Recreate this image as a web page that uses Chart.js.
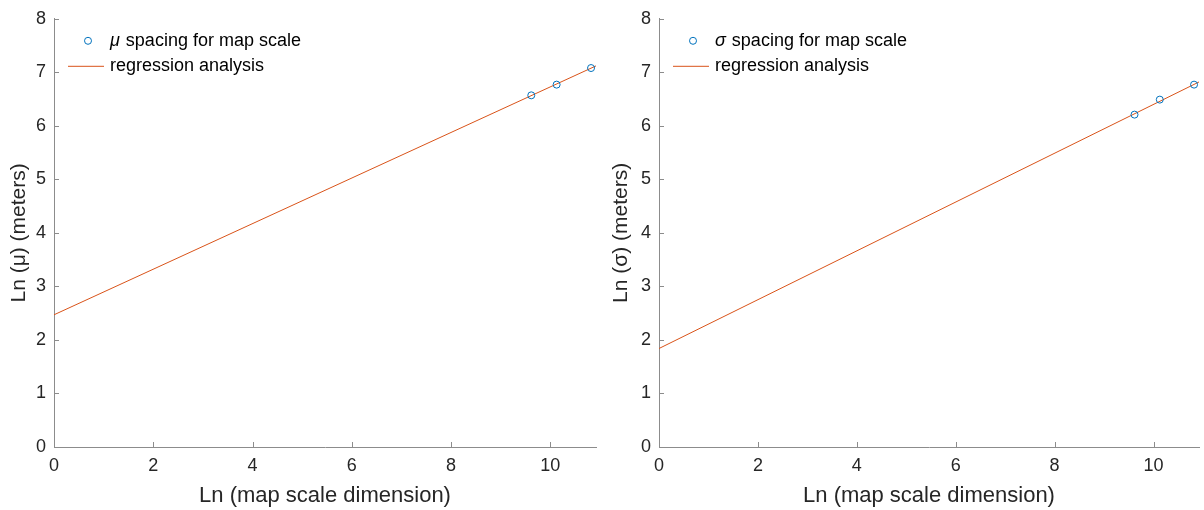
<!DOCTYPE html>
<html>
<head>
<meta charset="utf-8">
<script src="https://cdn.jsdelivr.net/npm/chart.js@4/dist/chart.umd.min.js"></script>
<style>
  body { margin: 0; background: #fff; }
  .wrap { position: absolute; top: 0; width: 602px; height: 510px; }
</style>
</head>
<body>
<div class="wrap" style="left:0"><canvas id="muChart" width="602" height="510"></canvas></div>
<div class="wrap" style="left:602px"><canvas id="sigmaChart" width="602" height="510"></canvas></div>
<script>
// ln(map scale) for 1:15000, 1:25000, 1:50000
const mapScaleLn = [9.616, 10.127, 10.820];
const muSpacing = [6.57, 6.77, 7.08];
const sigmaSpacing = [6.21, 6.49, 6.77];

// regression line end points
const fitX = [0, 10.92];
const muFit = [2.47, 7.12];
const sigmaFit = [1.84, 6.82];

const xTicks = [0, 2, 4, 6, 8, 10];
const yTicks = [0, 1, 2, 3, 4, 5, 6, 7, 8];

const FONT = "'Liberation Sans', Arial, Helvetica, sans-serif";
const AXIS_GREY = '#8c8c8c';

// matlab style: ticks pointing into the plot
const innerTicks = {
  id: 'innerTicks',
  afterDatasetsDraw(chart) {
    const {ctx, chartArea, scales: {x, y}} = chart;
    ctx.save();
    ctx.strokeStyle = AXIS_GREY;
    ctx.lineWidth = 1;
    x.ticks.forEach(t => {
      const px = Math.round(x.getPixelForValue(t.value)) + 0.5;
      ctx.beginPath();
      ctx.moveTo(px, chartArea.bottom);
      ctx.lineTo(px, chartArea.bottom - 5);
      ctx.stroke();
    });
    y.ticks.forEach(t => {
      const py = Math.round(y.getPixelForValue(t.value)) + 0.5;
      ctx.beginPath();
      ctx.moveTo(chartArea.left, py);
      ctx.lineTo(chartArea.left + 5, py);
      ctx.stroke();
    });
    ctx.restore();
  }
};

// legend in the upper left corner, no box
const cornerLegend = {
  id: 'cornerLegend',
  afterDraw(chart, args, opts) {
    const {ctx, chartArea} = chart;
    const left = chartArea.left;
    ctx.save();
    ctx.textBaseline = 'middle';
    ctx.fillStyle = '#000';

    // row 1: marker
    const y1 = chartArea.top + 22;
    ctx.beginPath();
    ctx.arc(left + 34, y1, 3.5, 0, Math.PI * 2);
    ctx.strokeStyle = '#0072BD';
    ctx.lineWidth = 1;
    ctx.stroke();
    ctx.font = 'italic 18px ' + FONT;
    ctx.fillText(opts.symbol, left + 56, y1);
    const w = ctx.measureText(opts.symbol).width;
    ctx.font = '18px ' + FONT;
    ctx.fillText(' spacing for map scale', left + 57 + w, y1);

    // row 2: line
    const y2 = chartArea.top + 47;
    ctx.beginPath();
    ctx.moveTo(left + 14, y2 + 0.5);
    ctx.lineTo(left + 50, y2 + 0.5);
    ctx.strokeStyle = '#D95319';
    ctx.stroke();
    ctx.fillText('regression analysis', left + 56, y2);
    ctx.restore();
  }
};

function makeChart(id, values, fit, symbol, yWidth, rightPad) {
  const points = mapScaleLn.map((v, i) => ({x: v, y: values[i]}));
  const line = fitX.map((v, i) => ({x: v, y: fit[i]}));
  return new Chart(document.getElementById(id), {
    type: 'scatter',
    data: {
      datasets: [
        {
          label: symbol + ' spacing for map scale',
          data: points,
          showLine: false,
          pointStyle: 'circle',
          pointRadius: 3.5,
          borderColor: '#0072BD',
          backgroundColor: 'rgba(0,0,0,0)',
          borderWidth: 1,
          order: 0
        },
        {
          label: 'regression analysis',
          data: line,
          showLine: true,
          pointRadius: 0,
          borderColor: '#D95319',
          borderWidth: 1,
          order: 1
        }
      ]
    },
    options: {
      responsive: false,
      animation: false,
      layout: { padding: { top: 16, right: rightPad, left: 0, bottom: 0 } },
      plugins: {
        legend: { display: false },
        tooltip: { enabled: false },
        cornerLegend: { symbol: symbol }
      },
      scales: {
        x: {
          type: 'linear',
          min: 0,
          max: 10.92,
          afterBuildTicks: s => { s.ticks = xTicks.map(v => ({value: v})); },
          afterFit: s => { s.height = 63; },
          grid: { drawOnChartArea: false, drawTicks: false },
          border: { color: AXIS_GREY, width: 1 },
          ticks: { color: '#262626', font: { family: FONT, size: 18 }, padding: 8, maxRotation: 0 },
          title: {
            display: true,
            text: 'Ln (map scale dimension)',
            color: '#262626',
            font: { family: FONT, size: 22 },
            padding: { top: 0, bottom: 1 }
          }
        },
        y: {
          type: 'linear',
          min: 0,
          max: 8,
          afterBuildTicks: s => { s.ticks = yTicks.map(v => ({value: v})); },
          afterFit: s => { s.width = yWidth; },
          grid: { drawOnChartArea: false, drawTicks: false },
          border: { color: AXIS_GREY, width: 1 },
          ticks: { color: '#262626', font: { family: FONT, size: 18 }, padding: 8 },
          title: {
            display: true,
            text: 'Ln (' + symbol + ') (meters)',
            color: '#262626',
            font: { family: FONT, size: 21 },
            padding: { top: 7, bottom: 0 }
          }
        }
      }
    },
    plugins: [innerTicks, cornerLegend]
  });
}

makeChart('muChart', muSpacing, muFit, 'μ', 54, 6);
makeChart('sigmaChart', sigmaSpacing, sigmaFit, 'σ', 57, 2);
</script>
</body>
</html>
